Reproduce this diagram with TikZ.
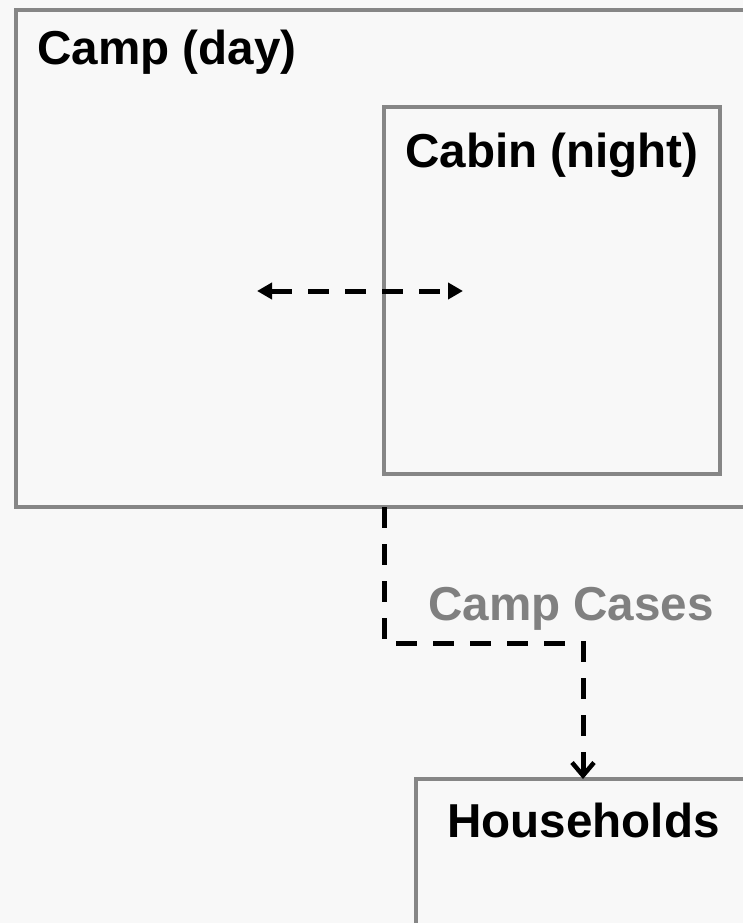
\documentclass[tikz,border=0pt]{standalone}
\usepackage{fontspec}
\setmainfont{Liberation Sans}
\usetikzlibrary{arrows.meta}
\definecolor{bgc}{RGB}{248,248,248}
\definecolor{boxgray}{RGB}{134,134,134}
\definecolor{labgray}{RGB}{128,128,128}
\tikzset{
  box/.style={draw=boxgray, line width=4.5pt, rectangle, inner sep=0pt, outer sep=0pt},
  lab/.style={inner sep=0pt, anchor=base west, font=\fontsize{47.6}{52}\selectfont\bfseries},
  conn/.style={draw=black, line width=5pt, dash pattern=on 21pt off 16pt},
}
\begin{document}
\begin{tikzpicture}[x=1pt, y=-1pt]
\useasboundingbox (0,0) rectangle (743,923);
\fill[bgc] (0,0) rectangle (743,923);
\clip (0,0) rectangle (743,923);
% boxes
\node[box, minimum width=744pt, minimum height=497pt] (camp) at (388,258.5) {};
\node[box, minimum width=336pt, minimum height=367pt] (cabin) at (552,290.5) {};
\node[box, minimum width=344pt, minimum height=181pt] (hh) at (588,869.5) {};
% labels
\node[lab] (camplab) at (37,65) {Camp (day)};
\node[lab] (cabinlab) at (405,167) {Cabin (night)};
\node[lab, text=labgray] (caseslab) at (428,620) {Camp Cases};
\node[lab] (hhlab) at (447,837) {Households};
% horizontal two-way arrow
\coordinate (hl) at (257,291);
\coordinate (hr) at (463,291);
\draw[conn, {Triangle[length=15pt,width=16pt]}-{Triangle[length=15pt,width=16pt]}] (hl) -- (hr);
% camp cases connector
\coordinate (cs) at (cabin.west |- camp.south);
\coordinate (bend) at (384,643);
\coordinate (hin) at (583,779);
\draw[conn, -{Straight Barb[length=13pt,width=22pt,line width=4.5pt]}] (cs) -- (bend) -| (hin);
\end{tikzpicture}
\end{document}
